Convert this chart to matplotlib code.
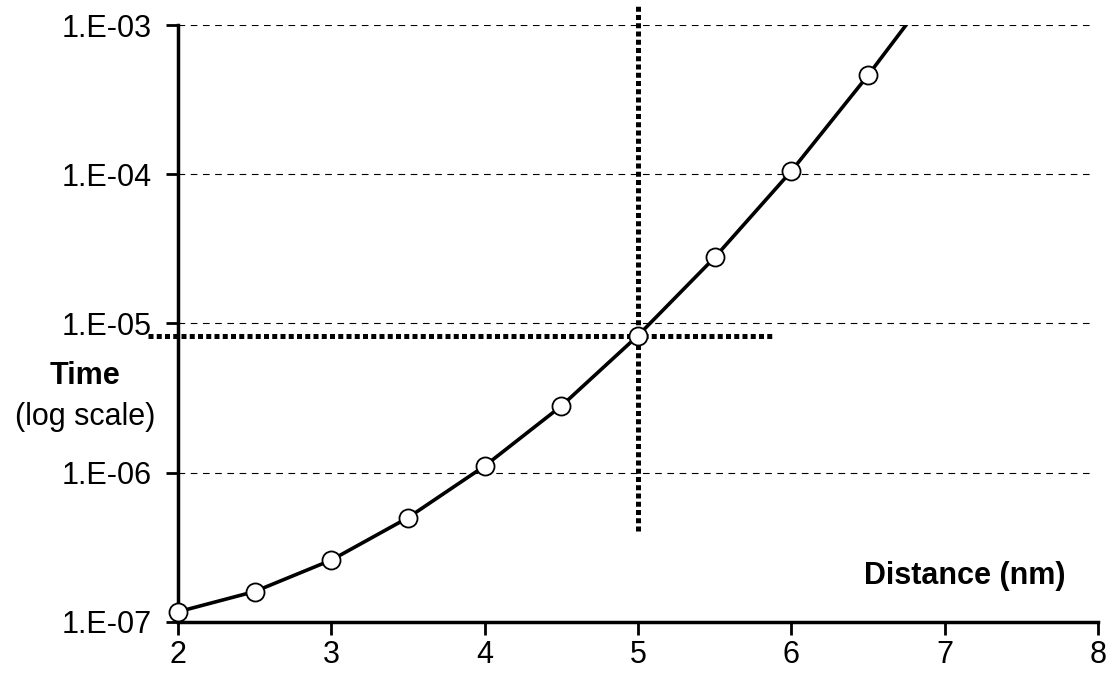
import numpy as np
import matplotlib
matplotlib.use("Agg")
import matplotlib.pyplot as plt

# data
distance = [2.0, 2.5, 3.0, 3.5, 4.0, 4.5, 5.0, 5.5, 6.0, 6.5, 7.0]
time = [1.17e-7, 1.6e-7, 2.6e-7, 5.0e-7, 1.11e-6, 2.8e-6, 8.3e-6, 2.77e-5, 1.05e-4, 4.6e-4, 2.2e-3]

y_ticks = [1e-7, 1e-6, 1e-5, 1e-4, 1e-3]
y_tick_labels = ["1.E-07", "1.E-06", "1.E-05", "1.E-04", "1.E-03"]
x_ticks = [2, 3, 4, 5, 6, 7, 8]

# guide lines marking the point at 5 nm
guide_x = 5.0
guide_y = 8.3e-6
guide_h_span = [1.805, 5.885]
guide_v_span = [4.1e-7, 1.36e-3]

plt.rcParams["font.family"] = ["Liberation Sans", "DejaVu Sans"]

fig = plt.figure(figsize=(11.17, 6.85), dpi=100)
ax = fig.add_axes([0.1594, 0.092, 0.983 - 0.1594, 0.9635 - 0.092])

ax.set_yscale("log")
ax.set_xlim(2, 8)
ax.set_ylim(1e-7, 1e-3)

# dashed grid
for yv in y_ticks[1:]:
    ax.plot([2, 7.97], [yv, yv], color="black", lw=0.8,
            linestyle=(0, (6, 5)), zorder=1)

# the curve, clipped at the top of the plot
ax.plot(distance, time, color="black", lw=2.6, zorder=3)

# markers, only those inside the value range
d = np.array(distance)
t = np.array(time)
inside = t <= 1e-3
ax.plot(d[inside], t[inside], linestyle="none", zorder=5, clip_on=False,
        marker="o", markersize=13, markerfacecolor="white",
        markeredgecolor="black", markeredgewidth=1.3)

# dotted guides
ax.plot(guide_h_span, [guide_y, guide_y], color="black", lw=3.6,
        linestyle=(0, (1, 0.65)), dash_capstyle="butt", clip_on=False, zorder=4)
ax.plot([guide_x, guide_x], guide_v_span, color="black", lw=3.6,
        linestyle=(0, (1, 0.65)), dash_capstyle="butt", clip_on=False, zorder=4)

ax.set_yticks(y_ticks)
ax.set_yticklabels(y_tick_labels)
ax.yaxis.set_minor_locator(matplotlib.ticker.NullLocator())
ax.set_xticks(x_ticks)
ax.tick_params(axis="both", labelsize=22, width=2, length=9,
               direction="out", color="black")
ax.tick_params(axis="y", pad=10)
ax.tick_params(axis="x", pad=4)

for side in ["top", "right"]:
    ax.spines[side].set_visible(False)
ax.spines["left"].set_linewidth(2.5)
ax.spines["bottom"].set_linewidth(2.5)

fig.text(85 / 1117, 1 - 376 / 685, "Time", fontsize=22, fontweight="bold",
         ha="center", va="center")
fig.text(85 / 1117, 1 - 417 / 685, "(log scale)", fontsize=22,
         ha="center", va="center")
fig.text(1066 / 1117, 1 - 576 / 685, "Distance (nm)", fontsize=22,
         fontweight="bold", ha="right", va="center")

fig.savefig("out.png", dpi=100)
